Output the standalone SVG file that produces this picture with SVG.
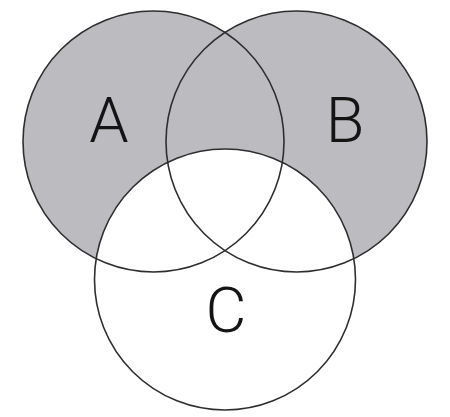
<svg xmlns="http://www.w3.org/2000/svg" width="450" height="417" viewBox="0 0 450 417">
<style>
.fillg{fill:#bcbcc0;stroke:none}
.fillw{fill:#ffffff;stroke:none}
.edge{fill:none;stroke:#2e2e2e;stroke-width:1.6}
.lbl{font-family:Roboto,"Liberation Sans",Arial,sans-serif;font-weight:300;font-size:63px;fill:#141414;text-anchor:middle}
</style>
<rect width="450" height="417" fill="#ffffff"/>
<g id="fills">
<circle class="fillg" cx="153.5" cy="141.5" r="130.5"/>
<circle class="fillg" cx="296.5" cy="141.5" r="130.5"/>
<circle class="fillw" cx="225" cy="279.5" r="130.5"/>
</g>
<g id="node-A">
<circle class="edge" cx="153.5" cy="141.5" r="130.5"/>
<text class="lbl" x="109" y="142">A</text>
</g>
<g id="node-B">
<circle class="edge" cx="296.5" cy="141.5" r="130.5"/>
<text class="lbl" x="345" y="142">B</text>
</g>
<g id="node-C">
<circle class="edge" cx="225" cy="279.5" r="130.5"/>
<text class="lbl" x="226" y="332">C</text>
</g>
<g id="connectors"></g>
</svg>
